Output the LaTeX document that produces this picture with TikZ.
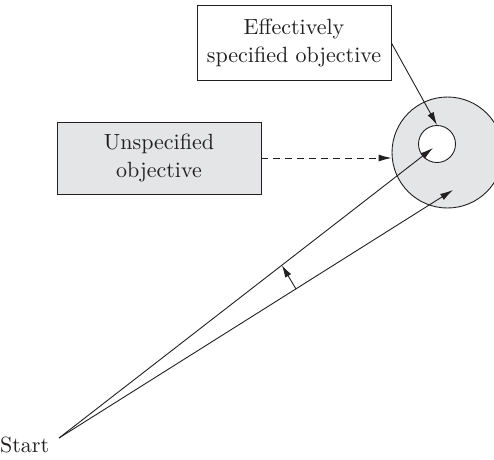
\documentclass[tikz,border=0pt]{standalone}
\usepackage{fontspec}
\setmainfont{lmroman10-regular.otf}
\usetikzlibrary{arrows.meta}
\definecolor{ink}{HTML}{231F20}
\definecolor{shade}{HTML}{E4E5E6}
\begin{document}
\begin{tikzpicture}[x=1pt,y=-1pt,
  txt/.style={font=\fontsize{22}{28}\selectfont, text=ink},
  boxnode/.style={txt, draw=ink, line width=0.9pt, align=center, inner sep=0pt},
  conn/.style={draw=ink, line width=0.9pt, -{Latex[length=13pt,width=7pt]}},
]
\useasboundingbox (0,0) rectangle (494,459);
% circles
\node (outer) [circle, draw=ink, fill=shade, line width=0.9pt, minimum size=111pt, inner sep=0pt] at (447.5,152.5) {};
\node (inner) [circle, draw=ink, fill=white, line width=0.9pt, minimum size=37pt, inner sep=0pt] at (437,144) {};
% boxes
\node (eff) [boxnode, fill=white, minimum width=194pt, minimum height=75pt] at (294,43) {Effectively\\specified objective};
\node (unsp) [boxnode, fill=shade, minimum width=204pt, minimum height=72pt] at (159,158) {Unspecified\\objective};
% start
\node (start) [txt, anchor=base west, inner sep=0pt] at (0,452) {Start};
\coordinate (s) at (59,438);
\coordinate (t1) at (433,148);
\coordinate (t2) at (453,190);
\coordinate (a0) at (296,289);
\coordinate (a1) at (282,265.5);
% connectors
\draw[conn] (s) -- (t1);
\draw[conn] (s) -- (t2);
\draw[conn, -{Latex[length=12pt,width=7pt]}] (a0) -- (a1);
\draw[conn] (eff.east) -- (inner.north);
\draw[conn, dashed, dash pattern=on 7pt off 5pt] (unsp.east) -- (unsp.east -| outer.west);
\end{tikzpicture}
\end{document}
